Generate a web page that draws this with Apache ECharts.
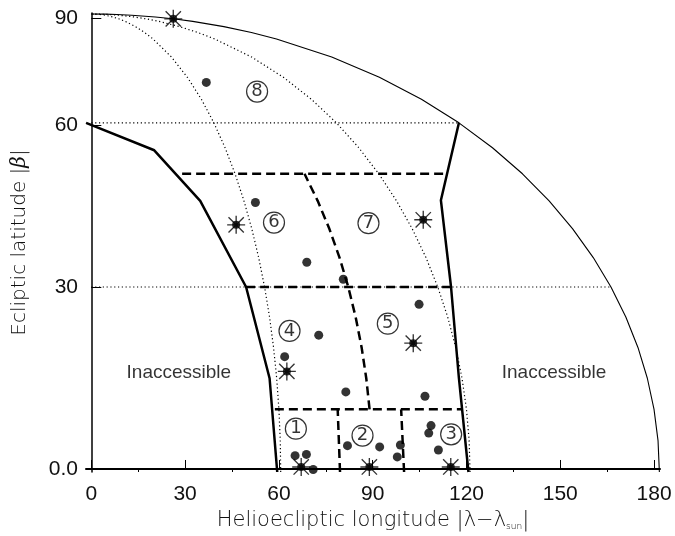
<!DOCTYPE html>
<html>
<head>
<meta charset="utf-8">
<script src="https://cdn.jsdelivr.net/npm/echarts@6/dist/echarts.min.js"></script>
<style>
html, body { margin: 0; padding: 0; background: #fff; }
#main { width: 675px; height: 536px; }
</style>
</head>
<body>
<div id="main"></div>
<script>
// all positions are [ |lambda - lambda_sun| , |beta| ] in degrees (Mollweide map)
var dotPoints = [
  [69.3, 68.8], [64.3, 44.7], [76.8, 34.2], [88.0, 31.3], [111.6, 27.1],
  [75.5, 22.0], [63.3, 18.5], [81.9, 12.8], [107.2, 12.1],
  [108.2, 7.4], [107.3, 6.2], [110.1, 3.5],
  [81.3, 4.2], [91.5, 4.0], [98.1, 4.3], [97.0, 2.4],
  [64.6, 2.6], [68.2, 2.8], [70.3, 0.4]
];
var starPoints = [
  [180, 87.1], [54.5, 40.7], [126.0, 41.6], [106.3, 20.7],
  [63.5, 16.1], [113.9, 0.8], [88.1, 0.8], [66.5, 0.8]
];

// region numbers
var regionNames = ['1', '2', '3', '4', '5', '6', '7', '8'];
var regionLon = [65.1, 86.2, 114.4, 66.0, 99.3, 69.0, 104.6, 94.3];
var regionLat = [6.9, 5.8, 6.0, 22.7, 23.9, 41.1, 41.0, 66.7];

// inaccessible areas
var noteText = ['Inaccessible', 'Inaccessible'];
var noteLon = [28.4, 150.2];
var noteLat = [15.9, 15.9];

// thick solid boundaries
var westLon = [-2.6, 28.0, 42.8, 53.6, 57.7, 58.9];
var westLat = [60, 54.5, 45.0, 30, 15.0, 0];
var eastLon = [180, 137.6, 124.6, 119.0, 119.5];
var eastLat = [60, 45.1, 30, 15.0, 0];

// dashed sector boundaries
var sectorLat = [10, 30, 50];
var sectorFrom = [58.7, 53.6, 37.9];
var sectorTo = [118.9, 124.6, 146.9];
var splitLon = [78.8, 99.1];      // from 0 to 10
var splitTop = 10;
var midMeridian = 89;             // from 10 to 50
var midFrom = 10, midTo = 50;

// graticule
var gridMeridians = [60, 120];
var outerMeridian = 180;
var gridParallels = [30, 60];
var latSamples = [0, 5, 10, 15, 20, 25, 30, 35, 40, 45, 50, 55, 60, 65, 70, 75, 80, 82, 84, 86, 87, 88, 89, 89.5, 89.8, 90];

// axis ticks
var lonLabels = [0, 30, 60, 90, 120, 150, 180];
var lonMinor = [15, 45, 75, 105, 135, 165];
var latTicks = [0, 30, 60, 90];
var latTickText = ['0.0', '30', '60', '90'];

function mollweide(lon, lat) {
  if (lat >= 89.9999) return [0, 90];
  var phi = lat * Math.PI / 180;
  var t = phi;
  for (var i = 0; i < 60; i++) {
    var d = 2 + 2 * Math.cos(2 * t);
    if (d < 1e-12) break;
    var f = 2 * t + Math.sin(2 * t) - Math.PI * Math.sin(phi);
    t -= f / d;
  }
  return [lon * Math.cos(t), 90 * Math.sin(t)];
}

function proj(list) {
  return list.map(function (p) { return mollweide(p[0], p[1]); });
}

function meridian(lon, from, to) {
  var pts = [[lon, from]];
  latSamples.forEach(function (b) { if (b > from && b < to) pts.push([lon, b]); });
  pts.push([lon, to]);
  return pts;
}

function zipLL(lons, lats) {
  return lons.map(function (l, i) { return [l, lats[i]]; });
}

function lineSeries(pts, width, type, z) {
  return {
    type: 'line',
    xAxisIndex: 0,
    yAxisIndex: 0,
    data: proj(pts),
    symbol: 'none',
    silent: true,
    z: z,
    lineStyle: { color: '#000', width: width, type: type }
  };
}

var starPath = 'path://M9.25 0L10.75 0L10.75 20L9.25 20Z M0 9.25L20 9.25L20 10.75L0 10.75Z ' +
  'M2.03 0.97L19.03 17.97L17.97 19.03L0.97 2.03Z M17.97 0.97L19.03 2.03L2.03 19.03L0.97 17.97Z';

var series = [];
gridMeridians.forEach(function (m) {
  series.push(lineSeries(meridian(m, 0, 90), 1.2, [1.2, 2.6], 1));
});
gridParallels.forEach(function (b) {
  series.push(lineSeries([[0, b], [outerMeridian, b]], 1.2, [1.2, 2.6], 1));
});
series.push(lineSeries(meridian(outerMeridian, 0, 90), 1.1, 'solid', 2));

sectorLat.forEach(function (b, i) {
  series.push(lineSeries([[sectorFrom[i], b], [sectorTo[i], b]], 2.5, [9, 5], 3));
});
splitLon.forEach(function (l) {
  series.push(lineSeries([[l, 0], [l, splitTop]], 2.5, [9, 5], 3));
});
series.push(lineSeries(meridian(midMeridian, midFrom, midTo), 2.5, [9, 5], 3));

series.push(lineSeries(zipLL(westLon, westLat), 2.5, 'solid', 4));
series.push(lineSeries(zipLL(eastLon, eastLat), 2.5, 'solid', 4));

series.push({
  type: 'scatter', xAxisIndex: 0, yAxisIndex: 0, z: 5, silent: true,
  data: proj(dotPoints), symbol: 'circle', symbolSize: 9,
  itemStyle: { color: '#000' }
});
series.push({
  type: 'scatter', xAxisIndex: 0, yAxisIndex: 0, z: 5, silent: true,
  data: proj(starPoints), symbol: starPath, symbolSize: 18,
  itemStyle: { color: '#000' }
});
series.push({
  type: 'scatter', xAxisIndex: 0, yAxisIndex: 0, z: 5, silent: true,
  data: proj(starPoints), symbol: 'circle', symbolSize: 8,
  itemStyle: { color: '#000' }
});
series.push({
  type: 'scatter', xAxisIndex: 0, yAxisIndex: 0, z: 5, silent: true,
  data: proj(zipLL(regionLon, regionLat)), symbol: 'circle', symbolSize: 21,
  itemStyle: { color: 'rgba(0,0,0,0)', borderColor: '#000', borderWidth: 1.2 },
  label: {
    show: true, position: 'inside', color: '#000', fontSize: 18,
    fontFamily: 'DejaVu Sans',
    formatter: function (p) { return regionNames[p.dataIndex]; }
  }
});
series.push({
  type: 'scatter', xAxisIndex: 0, yAxisIndex: 0, z: 5, silent: true,
  data: proj(zipLL(noteLon, noteLat)), symbolSize: 0,
  label: {
    show: true, position: 'inside', color: '#000', fontSize: 19,
    fontFamily: 'Liberation Sans',
    formatter: function (p) { return noteText[p.dataIndex]; }
  }
});

var latTickPos = latTicks.map(function (b) { return mollweide(0, b)[1]; });
var tickFont = { color: '#111', fontSize: 21, fontFamily: 'Liberation Sans' };

var chart = echarts.init(document.getElementById('main'));
chart.setOption({
  animation: false,
  backgroundColor: '#fff',
  grid: { left: 86, right: 15, top: 13, bottom: 64 },
  xAxis: [
    { type: 'value', min: -1.7, max: 180.2, show: false },
    {
      type: 'value', min: -1.7, max: 181.9, position: 'bottom',
      name: 'Helioecliptic longitude |λ−λ{s|sun}|',
      nameLocation: 'middle', nameGap: 38,
      nameTextStyle: {
        color: '#111', fontSize: 21, fontFamily: 'DejaVu Sans', fontWeight: 200,
        rich: { s: { fontSize: 9, fontFamily: 'DejaVu Sans', color: '#111', verticalAlign: 'bottom', padding: [8, 0, 0, 0] } }
      },
      axisLine: { show: true, lineStyle: { color: '#000', width: 2 } },
      axisTick: { show: true, inside: true, length: 9, customValues: lonLabels, lineStyle: { color: '#000', width: 1 } },
      axisLabel: Object.assign({ margin: 12, customValues: lonLabels }, tickFont),
      splitLine: { show: false }
    },
    {
      type: 'value', min: -1.7, max: 181.9, position: 'bottom',
      axisLine: { show: false },
      axisTick: { show: true, inside: true, length: 4, customValues: lonMinor, lineStyle: { color: '#000', width: 1 } },
      axisLabel: { show: false },
      splitLine: { show: false }
    }
  ],
  yAxis: [
    { type: 'value', min: 0, max: 90.2, show: false },
    {
      type: 'value', min: -0.6, max: 91.05, position: 'left',
      name: 'Ecliptic latitude |{b|β}|',
      nameLocation: 'middle', nameGap: 56, nameRotate: 90,
      nameTextStyle: {
        color: '#111', fontSize: 20, fontFamily: 'DejaVu Sans', fontWeight: 200,
        rich: { b: { fontSize: 20, fontFamily: 'DejaVu Serif', fontStyle: 'italic', color: '#111' } }
      },
      axisLine: { show: true, lineStyle: { color: '#000', width: 1.5 } },
      axisTick: { show: true, inside: true, length: 10, customValues: latTickPos, lineStyle: { color: '#000', width: 1 } },
      axisLabel: Object.assign({
        margin: 8, customValues: latTickPos,
        formatter: function (v) {
          for (var i = 0; i < latTickPos.length; i++) {
            if (Math.abs(latTickPos[i] - v) < 1e-6) return latTickText[i];
          }
          return '';
        }
      }, tickFont),
      splitLine: { show: false }
    }
  ],
  series: series
});
</script>
</body>
</html>
